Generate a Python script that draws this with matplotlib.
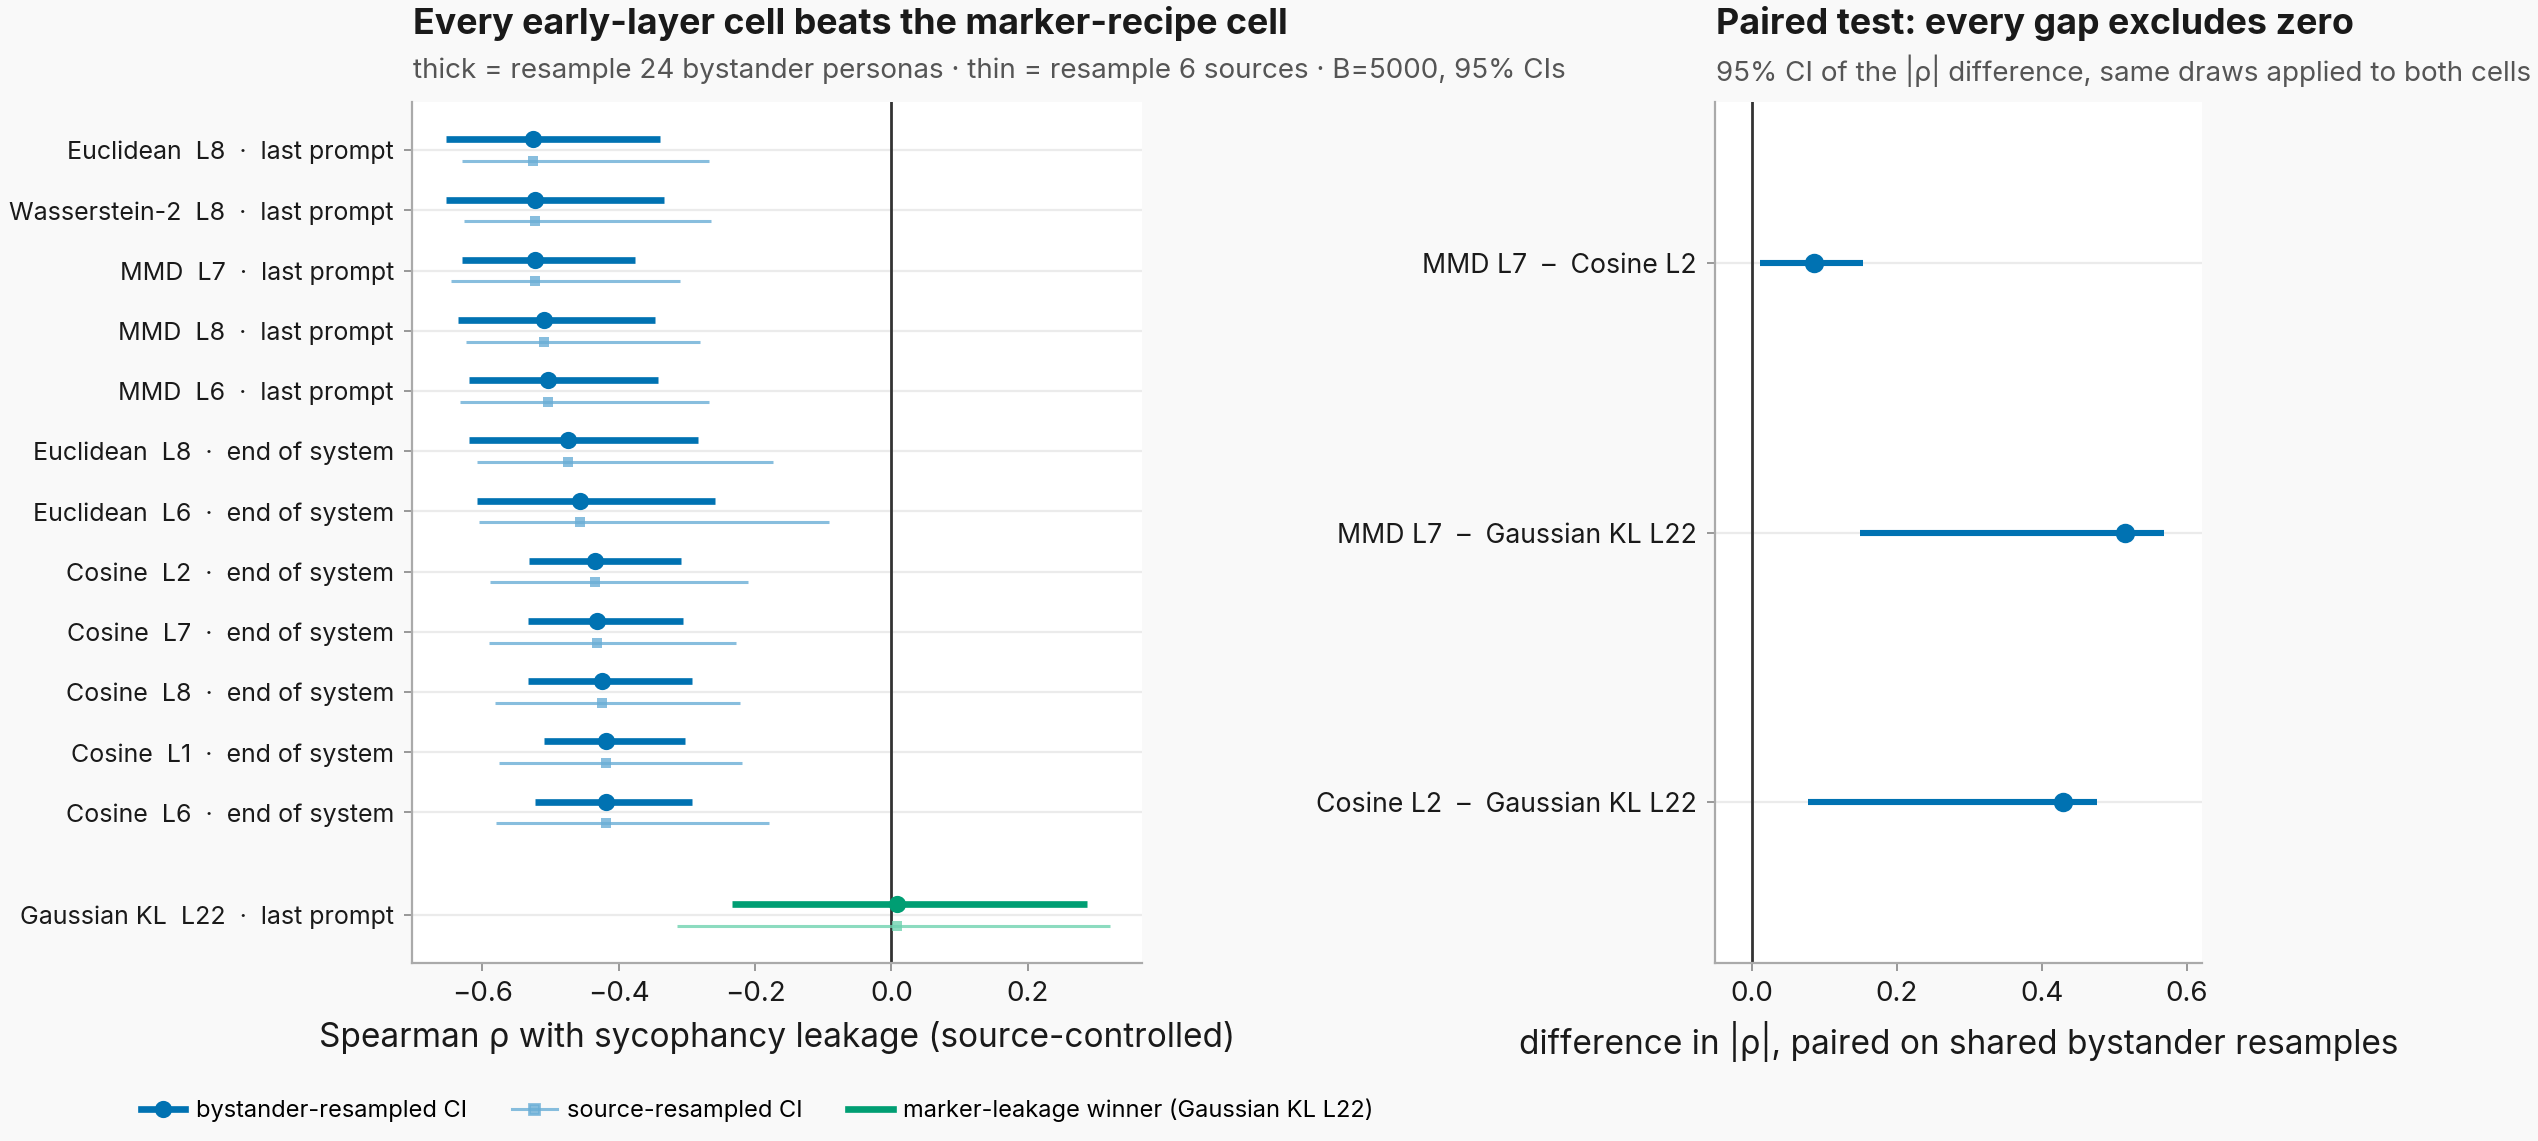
import matplotlib
matplotlib.use("Agg")
import matplotlib.pyplot as plt
from matplotlib.lines import Line2D

plt.rcParams['font.family'] = ['Inter', 'DejaVu Sans']

# left panel: Spearman rho per cell
cells = [
    "Euclidean  L8  ·  last prompt",
    "Wasserstein-2  L8  ·  last prompt",
    "MMD  L7  ·  last prompt",
    "MMD  L8  ·  last prompt",
    "MMD  L6  ·  last prompt",
    "Euclidean  L8  ·  end of system",
    "Euclidean  L6  ·  end of system",
    "Cosine  L2  ·  end of system",
    "Cosine  L7  ·  end of system",
    "Cosine  L8  ·  end of system",
    "Cosine  L1  ·  end of system",
    "Cosine  L6  ·  end of system",
    "Gaussian KL  L22  ·  last prompt",
]
rho = [-0.525, -0.522, -0.522, -0.510, -0.504, -0.474, -0.457, -0.435,
       -0.432, -0.424, -0.418, -0.418, 0.008]
byst_lo = [-0.653, -0.653, -0.629, -0.636, -0.619, -0.619, -0.607, -0.532,
           -0.533, -0.533, -0.509, -0.523, -0.234]
byst_hi = [-0.340, -0.334, -0.376, -0.347, -0.343, -0.283, -0.258, -0.309,
           -0.306, -0.293, -0.303, -0.293, 0.286]
src_lo = [-0.629, -0.626, -0.646, -0.624, -0.633, -0.607, -0.605, -0.589,
          -0.590, -0.581, -0.576, -0.580, -0.315]
src_hi = [-0.267, -0.265, -0.310, -0.281, -0.268, -0.173, -0.092, -0.210,
          -0.228, -0.222, -0.219, -0.179, 0.320]

# right panel: paired differences in |rho|
pairs = [
    "MMD L7  –  Cosine L2",
    "MMD L7  –  Gaussian KL L22",
    "Cosine L2  –  Gaussian KL L22",
]
diff = [0.086, 0.515, 0.429]
diff_lo = [0.011, 0.149, 0.078]
diff_hi = [0.154, 0.569, 0.476]

BLUE = "#0072B2"
LIGHT = "#6aaed6"
GREEN = "#009E73"
LGREEN = "#6fd2b0"
INK = "#1a1a1a"
GREY = "#555555"
BG = "#f9f9f9"

fig = plt.figure(figsize=(12.69, 5.705), dpi=200, facecolor=BG)
ax1 = fig.add_axes([0.1623, 0.156, 0.2876, 0.7546])
ax2 = fig.add_axes([0.6757, 0.156, 0.1921, 0.7546])

n = len(cells)
ypos = [i for i in range(n - 1)] + [n - 1 + 0.7]
off = 0.18

for i, y in enumerate(ypos):
    winner = i == n - 1
    c_thick = GREEN if winner else BLUE
    c_thin = LGREEN if winner else LIGHT
    ax1.plot([byst_lo[i], byst_hi[i]], [y - off, y - off], color=c_thick,
             lw=2.4, solid_capstyle='butt', zorder=3)
    ax1.plot(rho[i], y - off, 'o', color=c_thick, ms=5.2, zorder=4)
    ax1.plot([src_lo[i], src_hi[i]], [y + off, y + off], color=c_thin,
             lw=1.1, alpha=0.8, solid_capstyle='butt', zorder=3)
    ax1.plot(rho[i], y + off, 's', color=c_thin, ms=3.6, alpha=0.8,
             mew=0, zorder=4)

ax1.axvline(0, color="#333333", lw=1.0, zorder=2)
ax1.set_yticks(ypos)
ax1.set_yticklabels(cells)
ax1.set_ylim(n - 1 + 1.5, -0.8)
ax1.set_xlim(-0.703, 0.367)
ax1.set_xticks([-0.6, -0.4, -0.2, 0.0, 0.2])
ax1.set_xlabel("Spearman ρ with sycophancy leakage (source-controlled)",
               fontsize=12, color=INK, labelpad=5)

for k in range(len(pairs)):
    ax2.plot([diff_lo[k], diff_hi[k]], [k, k], color=BLUE, lw=2.2,
             solid_capstyle='butt', zorder=3)
    ax2.plot(diff[k], k, 'o', color=BLUE, ms=6, zorder=4)
ax2.axvline(0, color="#333333", lw=1.0, zorder=2)
ax2.set_yticks(range(len(pairs)))
ax2.set_yticklabels(pairs)
ax2.set_ylim(2.6, -0.6)
ax2.set_xlim(-0.051, 0.622)
ax2.set_xticks([0.0, 0.2, 0.4, 0.6])
ax2.set_xlabel("difference in |ρ|, paired on shared bystander resamples",
               fontsize=12, color=INK, labelpad=5)

for ax in (ax1, ax2):
    ax.set_facecolor("white")
    for s in ("top", "right"):
        ax.spines[s].set_visible(False)
    for s in ("left", "bottom"):
        ax.spines[s].set_color("#aaaaaa")
        ax.spines[s].set_linewidth(0.8)
    ax.grid(axis='y', color="#ebebeb", lw=0.8, zorder=0)
    ax.set_axisbelow(True)
    ax.tick_params(axis='both', colors="#888888", labelcolor=INK,
                   length=3, width=0.6)
    ax.tick_params(axis='x', labelsize=10)
ax1.tick_params(axis='y', labelsize=9.0)
ax2.tick_params(axis='y', labelsize=9.6)

fig.text(0.1627, 0.979, "Every early-layer cell beats the marker-recipe cell",
         fontsize=12.9, fontweight='bold', color=INK, va='center')
fig.text(0.1627, 0.938,
         "thick = resample 24 bystander personas · thin = resample 6 sources · B=5000, 95% CIs",
         fontsize=10, color=GREY, va='center')
fig.text(0.6761, 0.979, "Paired test: every gap excludes zero",
         fontsize=12.9, fontweight='bold', color=INK, va='center')
fig.text(0.6761, 0.938,
         "95% CI of the |ρ| difference, same draws applied to both cells",
         fontsize=10, color=GREY, va='center')

handles = [
    Line2D([], [], color=BLUE, lw=2.4, marker='o', ms=5.2),
    Line2D([], [], color=LIGHT, lw=1.1, marker='s', ms=3.6, alpha=0.8),
    Line2D([], [], color=GREEN, lw=2.4),
]
labels = ["bystander-resampled CI", "source-resampled CI",
          "marker-leakage winner (Gaussian KL L22)"]
fig.legend(handles, labels, loc='center left', bbox_to_anchor=(0.047, 0.027),
           ncol=3, frameon=False, fontsize=8.5, handlelength=1.9,
           columnspacing=1.9, handletextpad=0.45)

fig.savefig("out.png", dpi=200, facecolor=BG)
